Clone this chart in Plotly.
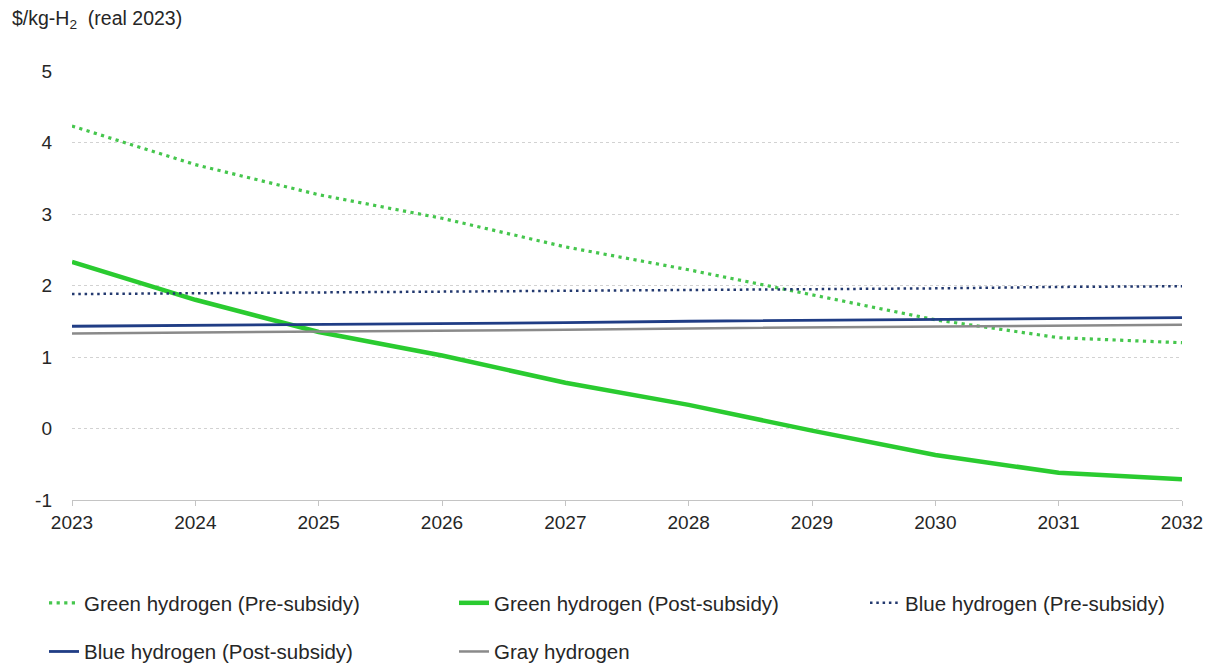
import plotly.graph_objects as go

years = [2023, 2024, 2025, 2026, 2027, 2028, 2029, 2030, 2031, 2032]

green_pre = [4.23, 3.69, 3.27, 2.94, 2.54, 2.22, 1.87, 1.52, 1.27, 1.20]
green_post = [2.33, 1.80, 1.35, 1.02, 0.64, 0.33, -0.03, -0.37, -0.62, -0.71]
blue_pre = [1.88, 1.89, 1.90, 1.91, 1.93, 1.94, 1.95, 1.96, 1.98, 1.99]
blue_post = [1.43, 1.44, 1.45, 1.47, 1.48, 1.50, 1.51, 1.52, 1.54, 1.55]
gray = [1.33, 1.34, 1.35, 1.37, 1.38, 1.40, 1.41, 1.42, 1.44, 1.45]

y_ticks = [-1, 0, 1, 2, 3, 4, 5]
y_tick_labels = ["-1", "0", "1", "2", "3", "4", "5"]

# name, values, colour, width, dash, legend column
series = [
    ("Green hydrogen (Pre-subsidy)", green_pre, "#45c64d", 3.2, "3.2px,4.4px", "legend"),
    ("Green hydrogen (Post-subsidy)", green_post, "#2acb30", 4.5, "solid", "legend2"),
    ("Blue hydrogen (Pre-subsidy)", blue_pre, "#23396f", 2.5, "2.5px,3.8px", "legend3"),
    ("Blue hydrogen (Post-subsidy)", blue_post, "#203d85", 2.8, "solid", "legend"),
    ("Gray hydrogen", gray, "#8a8a8a", 2.5, "solid", "legend2"),
]

fig = go.Figure()
for i, (name, vals, color, width, dash, leg) in enumerate(series):
    fig.add_trace(go.Scatter(
        x=years, y=vals, name=name, mode="lines", legend=leg,
        legendgroup=f"g{i}",
        line=dict(color=color, width=width, dash=dash),
    ))

legend_font = dict(size=20.5, color="#262626")
legend_common = dict(
    orientation="v", xref="container", yref="container",
    xanchor="left", yanchor="top", y=1 - 583 / 667,
    tracegroupgap=19, font=legend_font, bgcolor="rgba(0,0,0,0)",
)

fig.update_layout(
    width=1211, height=667,
    margin=dict(l=72, r=29, t=71, b=167, autoexpand=False),
    paper_bgcolor="white", plot_bgcolor="white",
    font=dict(family="Liberation Sans, Arial, sans-serif", size=19, color="#262626"),
    showlegend=True,
    legend=dict(x=44 / 1211, **legend_common),
    legend2=dict(x=454 / 1211, **legend_common),
    legend3=dict(x=865 / 1211, **legend_common),
    xaxis=dict(
        range=[2023, 2032], tickvals=years, ticktext=[str(y) for y in years],
        showgrid=False, showline=True, linecolor="#c4c4c4", linewidth=1,
        ticks="outside", ticklen=5, tickcolor="#c4c4c4",
        zeroline=False, tickfont=dict(size=19),
    ),
    yaxis=dict(
        range=[-1, 5], tickvals=y_ticks, ticktext=y_tick_labels,
        showgrid=True, gridcolor="#d2d2d2",
        griddash="dot", gridwidth=1, zeroline=False, showline=False, ticks="",
        ticklabelstandoff=19, tickfont=dict(size=19),
    ),
    annotations=[dict(
        text="$/kg-H<sub>2</sub>  (real 2023)", xref="paper", yref="paper",
        x=(10 - 72) / 1110, y=(500 - 19) / 429, xanchor="left", yanchor="middle",
        showarrow=False, font=dict(size=19.5, color="#262626"),
    )],
)

fig.write_html("out.html")
